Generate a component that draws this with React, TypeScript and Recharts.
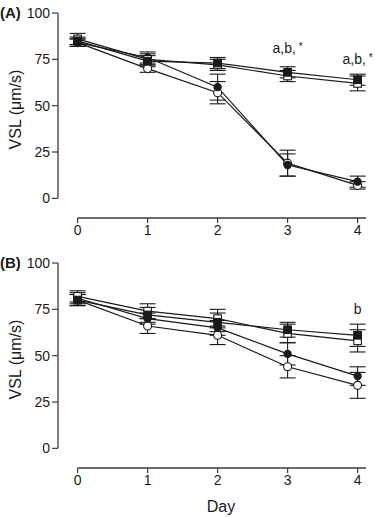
import React from 'react';
import { LineChart, Line, XAxis, YAxis, ErrorBar, ReferenceLine, ReferenceDot, Label } from 'recharts';

const days = [0, 1, 2, 3, 4];
const xTicks = [0, 1, 2, 3, 4];
const yTicks = [0, 25, 50, 75, 100];

// panel A
const aFilledSquare = [85, 74, 73, 68, 64];
const aFilledSquareErr = [2, 3, 3, 3, 3];
const aOpenSquare = [86, 75, 72, 66, 62];
const aOpenSquareErr = [3, 3, 3, 3, 4];
const aFilledCircle = [84, 76, 60, 18, 9];
const aFilledCircleErr = [2, 3, 7, 6, 3];
const aOpenCircle = [84, 70, 57, 19, 7];
const aOpenCircleErr = [2, 2, 6, 7, 2];

// panel B
const bFilledSquare = [80, 72, 68, 64, 61];
const bFilledSquareErr = [3, 4, 5, 4, 6];
const bOpenSquare = [82, 74, 70, 62, 58];
const bOpenSquareErr = [3, 4, 5, 5, 6];
const bFilledCircle = [81, 70, 65, 51, 39];
const bFilledCircleErr = [3, 3, 4, 6, 5];
const bOpenCircle = [80, 66, 61, 44, 34];
const bOpenCircleErr = [3, 4, 5, 6, 7];

// significance notes: [day, height, text, star]
const aNotes: [number, number, string, boolean][] = [
  [3, 81, 'a,b,', true],
  [4, 75, 'a,b,', true],
];
const bNotes: [number, number, string, boolean][] = [[4, 75, 'b', false]];

const X_MIN = -0.28;
const X_MAX = 4.12;
const Y_MIN = -10.6;
const FONT = '"Liberation Sans", Arial, Helvetica, sans-serif';
const INK = '#1a1a1a';
const AXIS = '#3c3c3c';

const buildRows = (fs: number[], fsE: number[], os: number[], osE: number[], fc: number[], fcE: number[], oc: number[], ocE: number[]) =>
  days.map((d, i) => ({
    day: d,
    fs: fs[i], fsE: fsE[i],
    os: os[i], osE: osE[i],
    fc: fc[i], fcE: fcE[i],
    oc: oc[i], ocE: ocE[i],
  }));

const dataA = buildRows(aFilledSquare, aFilledSquareErr, aOpenSquare, aOpenSquareErr, aFilledCircle, aFilledCircleErr, aOpenCircle, aOpenCircleErr);
const dataB = buildRows(bFilledSquare, bFilledSquareErr, bOpenSquare, bOpenSquareErr, bFilledCircle, bFilledCircleErr, bOpenCircle, bOpenCircleErr);

const square = (filled: boolean) => (p: any) => {
  if (p.cx == null || p.cy == null) return null;
  return <rect key={p.key} x={p.cx - 3.8} y={p.cy - 3.8} width={7.6} height={7.6} fill={filled ? INK : '#fff'} stroke={INK} strokeWidth={1.1} />;
};
const circle = (filled: boolean) => (p: any) => {
  if (p.cx == null || p.cy == null) return null;
  return <circle key={p.key} cx={p.cx} cy={p.cy} r={filled ? 3.6 : 4} fill={filled ? INK : '#fff'} stroke={INK} strokeWidth={1.1} />;
};

const series = [
  { key: 'oc', err: 'ocE', dot: circle(false) },
  { key: 'fc', err: 'fcE', dot: circle(true) },
  { key: 'os', err: 'osE', dot: square(false) },
  { key: 'fs', err: 'fsE', dot: square(true) },
];

const noteLabel = (text: string, star: boolean) => (props: any) => {
  const vb = props.viewBox || {};
  return (
    <text x={vb.x} y={vb.y} textAnchor="middle" dominantBaseline="central" fontSize={14} fontFamily={FONT} fill={INK}>
      {text}
      {star && <tspan fontSize={10} dx={3} dy={-2}>*</tspan>}
    </text>
  );
};

const yLabel = (props: any) => {
  const vb = props.viewBox || {};
  const cx = 15;
  const cy = vb.y + vb.height / 2 - 6;
  return (
    <text transform={`translate(${cx},${cy}) rotate(-90)`} textAnchor="middle" dominantBaseline="central" fontSize={16} fontFamily={FONT} fill={INK}>
      VSL (μm/s)
    </text>
  );
};

const Panel = ({ data, notes, height, showDay }: { data: any[]; notes: [number, number, string, boolean][]; height: number; showDay: boolean }) => (
  <LineChart width={375} height={height} data={data} margin={{ top: 13, right: 9, bottom: 2, left: 18 }}>
    <XAxis
      dataKey="day"
      type="number"
      domain={[X_MIN, X_MAX]}
      ticks={xTicks}
      axisLine={false}
      tickSize={5}
      tickLine={{ stroke: AXIS, strokeWidth: 1.2 }}
      tick={{ fill: INK, fontSize: 14, fontFamily: FONT }}
      height={showDay ? 47 : 30}
      allowDataOverflow
    >
      {showDay && <Label value="Day" position="insideBottom" offset={3} dx={9} fontSize={16} fontFamily={FONT} fill={INK} />}
    </XAxis>
    <YAxis
      type="number"
      domain={[Y_MIN, 100]}
      ticks={yTicks}
      axisLine={false}
      tickSize={6}
      tickLine={{ stroke: AXIS, strokeWidth: 1.2 }}
      tick={{ fill: INK, fontSize: 14, fontFamily: FONT }}
      width={40}
      allowDataOverflow
    >
      <Label content={yLabel} />
    </YAxis>
    <ReferenceLine segment={[{ x: X_MIN, y: 0 }, { x: X_MIN, y: 100 }]} stroke={AXIS} strokeWidth={1.3} />
    <ReferenceLine segment={[{ x: 0, y: Y_MIN }, { x: X_MAX, y: Y_MIN }]} stroke={AXIS} strokeWidth={1.3} />
    {series.map((s) => (
      <Line
        key={s.key}
        dataKey={s.key}
        stroke={INK}
        strokeWidth={1.2}
        dot={s.dot}
        activeDot={false}
        isAnimationActive={false}
      >
        <ErrorBar dataKey={s.err} width={8} stroke={INK} strokeWidth={1.1} direction="y" isAnimationActive={false} />
      </Line>
    ))}
    {notes.map(([d, v, text, star], i) => (
      <ReferenceDot key={i} x={d} y={v} r={0} fill="none" stroke="none" label={{ content: noteLabel(text, star) }} />
    ))}
  </LineChart>
);

export default function App() {
  return (
    <div style={{ position: 'absolute', left: 0, top: 0, width: 375, height: 517, background: '#fff', fontFamily: FONT }}>
      <div style={{ position: 'absolute', left: 0, top: 4, fontSize: 15, fontWeight: 'bold', color: INK }}>(A)</div>
      <div style={{ position: 'absolute', left: 0, top: 254, fontSize: 15, fontWeight: 'bold', color: INK }}>(B)</div>
      <div style={{ position: 'absolute', left: 0, top: 0 }}>
        <Panel data={dataA} notes={aNotes} height={250} showDay={false} />
      </div>
      <div style={{ position: 'absolute', left: 0, top: 250 }}>
        <Panel data={dataB} notes={bNotes} height={267} showDay={true} />
      </div>
    </div>
  );
}
